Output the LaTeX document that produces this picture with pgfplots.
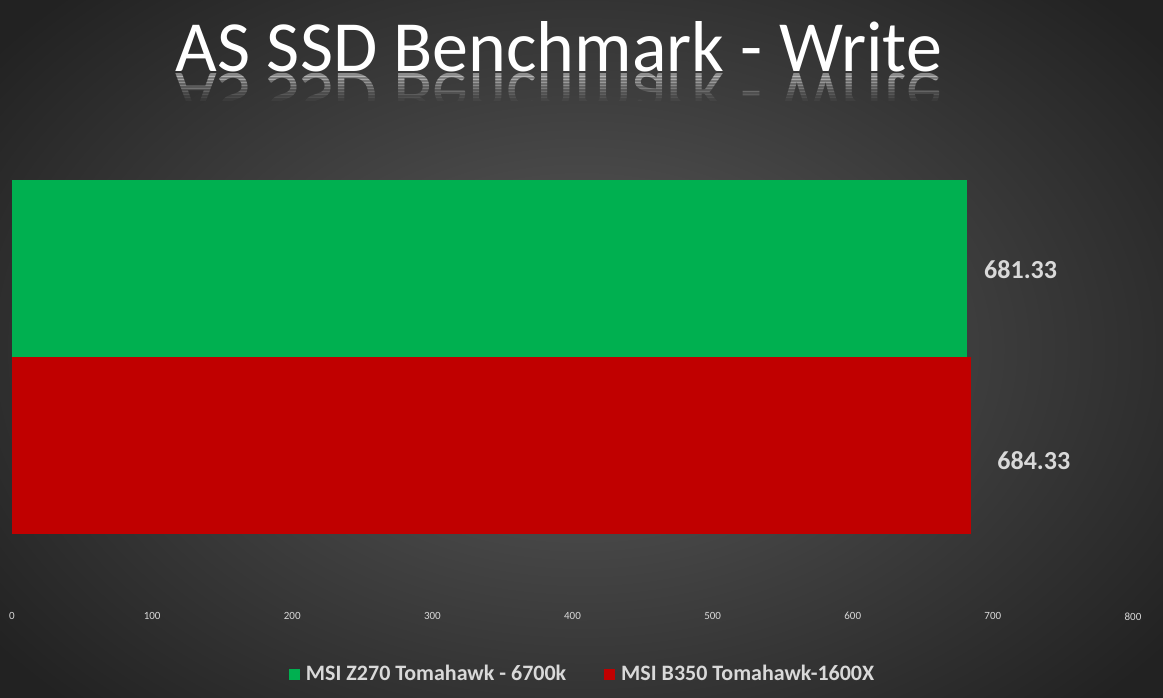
\documentclass[border=0pt]{standalone}
\usepackage{pgfplots}
\pgfplotsset{compat=1.18}
\usepackage{fontspec}
\setmainfont{Carlito}
\definecolor{bargreen}{RGB}{0,176,80}
\definecolor{barred}{RGB}{192,0,0}
\definecolor{lbl}{RGB}{217,217,217}
\definecolor{bgin}{RGB}{92,92,92}
\definecolor{bgout}{RGB}{34,34,34}
\begin{document}
\begin{tikzpicture}[x=1pt,y=1pt]
\useasboundingbox (0,0) rectangle (1163,-698);
\shade[inner color=bgin, outer color=bgout] (-150,150) rectangle (1313,-848);
\node[white, anchor=base, font=\fontsize{72}{80}\selectfont, inner sep=0pt] at (559,-72) {AS SSD Benchmark - Write};
\foreach \i/\op in {0/0.42,1/0.36,2/0.30,3/0.25,4/0.20,5/0.15,6/0.11,7/0.07,8/0.04}{
  \begin{scope}
  \clip (0,{-74-3*\i}) rectangle (1163,{-77-3*\i});
  \node[white, opacity=\op, anchor=base, yscale=-1, font=\fontsize{72}{80}\selectfont, inner sep=0pt] at (559,-74) {AS SSD Benchmark - Write};
  \end{scope}
}
\begin{axis}[
  at={(12pt,-160pt)}, anchor=north west,
  scale only axis, width=1121pt, height=446pt,
  xmin=0, xmax=800, ymin=-0.9068, ymax=1.6130,
  xbar, bar width=177pt, bar shift=0pt,
  axis line style={draw=none}, tick style={draw=none},
  ytick=\empty,
  xtick={0,100,...,800},
  /pgf/number format/assume math mode=true,
  xticklabel style={font=\fontsize{11}{13}\selectfont, text=lbl, yshift=-3pt},
  nodes near coords,
  nodes near coords style={font=\bfseries\fontsize{26}{30}\selectfont, text=lbl, anchor=west},
  point meta=explicit symbolic,
  legend columns=2,
  legend style={at={(0.509,-0.1525)}, anchor=center, draw=none, fill=none,
    font=\bfseries\fontsize{22}{26}\selectfont, text=lbl,
    /tikz/every even column/.append style={column sep=36pt}},
  legend image code/.code={\fill[#1,draw=none] (0pt,-5.5pt) rectangle (11pt,5.5pt); \path (15pt,0pt);},
]
\addplot[fill=bargreen, draw=none, nodes near coords style={xshift=14pt, yshift=-1pt}] coordinates {(681.33,1) [681.33]};
\addlegendentry{MSI Z270 Tomahawk - 6700k}
\addplot[fill=barred, draw=none, nodes near coords style={xshift=23pt, yshift=-15pt}] coordinates {(684.33,0) [684.33]};
\addlegendentry{MSI B350 Tomahawk-1600X}
\end{axis}
\end{tikzpicture}
\end{document}
